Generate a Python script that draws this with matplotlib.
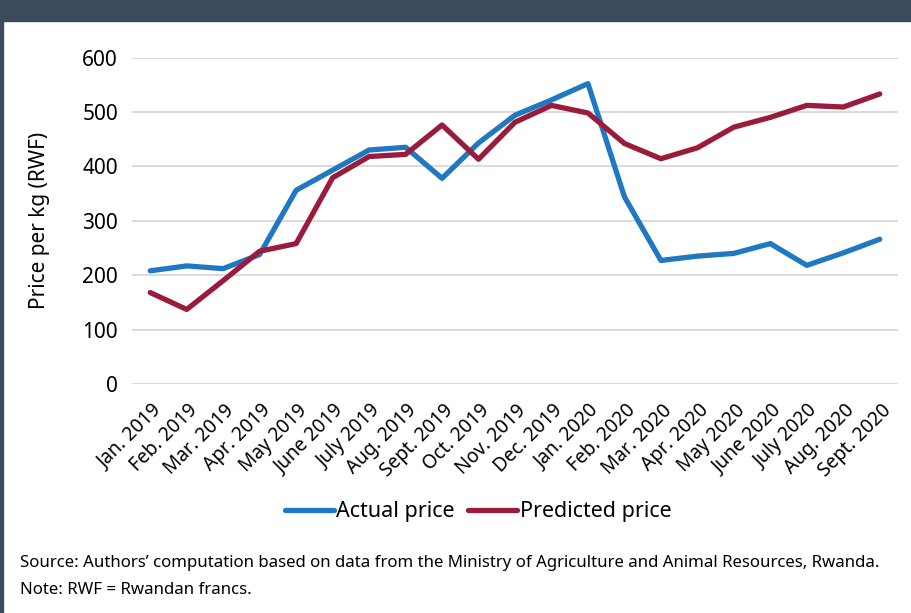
import numpy as np
import matplotlib.pyplot as plt
from matplotlib.patches import Rectangle
from matplotlib.transforms import ScaledTranslation

months = ['Jan. 2019', 'Feb. 2019', 'Mar. 2019', 'Apr. 2019', 'May 2019',
          'June 2019', 'July 2019', 'Aug. 2019', 'Sept. 2019', 'Oct. 2019',
          'Nov. 2019', 'Dec. 2019', 'Jan. 2020', 'Feb. 2020', 'Mar. 2020',
          'Apr. 2020', 'May 2020', 'June 2020', 'July 2020', 'Aug. 2020',
          'Sept. 2020']
actual = [208, 217, 212, 238, 356, 393, 430, 435, 378, 443, 494,
          522, 552, 344, 227, 235, 240, 258, 218, 241, 266]
predicted = [168, 137, 190, 244, 258, 379, 418, 422, 476, 413, 481,
             512, 498, 442, 414, 434, 472, 490, 512, 509, 533]
y_ticks = [0, 100, 200, 300, 400, 500, 600]

plt.rcParams['font.family'] = ['Noto Sans', 'DejaVu Sans']

W, H = 911, 613
fig = plt.figure(figsize=(W / 100, H / 100), dpi=100)
fig.patch.set_facecolor('white')

# dark banner at the top and thin frame line on the left
band = '#3a4b5c'
fig.patches.append(Rectangle((0, 1 - 21 / H), 1, 21 / H, transform=fig.transFigure,
                             color=band, zorder=0))
fig.patches.append(Rectangle((0, 0), 2.5 / W, 1 - 21 / H, transform=fig.transFigure,
                             color=band, zorder=0))

ax = fig.add_axes([132 / W, (H - 384) / H, (898 - 132) / W, (384 - 57.5) / H])
x = np.arange(len(months))
ax.plot(x, actual, color='#1f78c1', lw=3.8, solid_capstyle='round',
        solid_joinstyle='round', label='Actual price', clip_on=False, zorder=3)
ax.plot(x, predicted, color='#9b1b3a', lw=3.8, solid_capstyle='round',
        solid_joinstyle='round', label='Predicted price', clip_on=False, zorder=3)

ax.set_xlim(-0.5, len(months) - 0.5)
ax.set_ylim(0, 600)
ax.set_yticks(y_ticks)
ax.yaxis.grid(True, color='#d9d9d9', lw=1.3)
ax.set_axisbelow(True)
for s in ax.spines.values():
    s.set_visible(False)
ax.tick_params(axis='both', length=0, colors='black')
ax.tick_params(axis='y', labelsize=15, pad=10)
ax.tick_params(axis='x', labelsize=13.8, pad=17)

ax.set_xticks(x)
ax.set_xticklabels(months, rotation=45, ha='right', va='center',
                   rotation_mode='anchor')
shift = ScaledTranslation(8 / 100, 0, fig.dpi_scale_trans)
for lab in ax.get_xticklabels():
    lab.set_transform(lab.get_transform() + shift)

fig.text(40 / W, 1 - 220 / H, 'Price per kg (RWF)', rotation=90,
         ha='center', va='center', fontsize=15)

fig.legend(loc='center', bbox_to_anchor=(478 / W, 1 - 512 / H), ncol=2,
           frameon=False, fontsize=15.5, handlelength=2.3, handletextpad=0.1,
           columnspacing=0.6)

fig.text(20 / W, 1 - 563 / H,
         'Source: Authors\u2019 computation based on data from the Ministry of '
         'Agriculture and Animal Resources, Rwanda.',
         ha='left', va='center', fontsize=12.1)
fig.text(20 / W, 1 - 590 / H, 'Note: RWF = Rwandan francs.',
         ha='left', va='center', fontsize=12.1)

fig.savefig('out.png', dpi=100)
